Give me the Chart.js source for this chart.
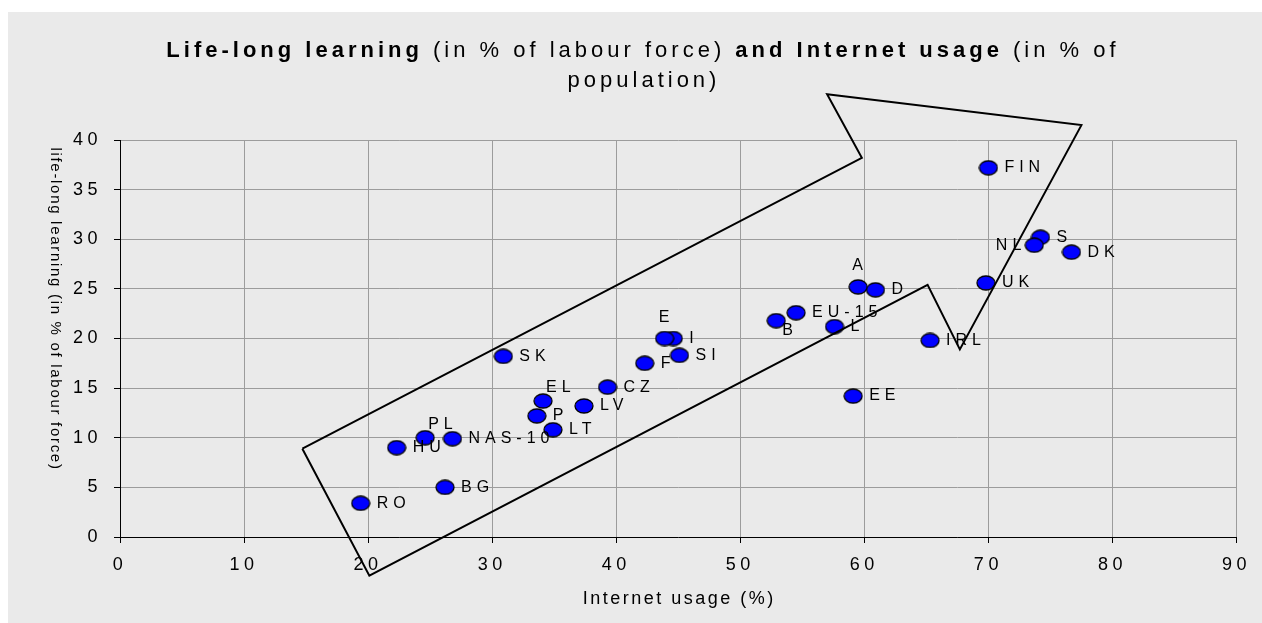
<!DOCTYPE html>
<html>
<head>
<meta charset="utf-8">
<title>Life-long learning and Internet usage</title>
<script src="https://cdn.jsdelivr.net/npm/chart.js@4.4.1/dist/chart.umd.min.js"></script>
<style>
  html, body { margin: 0; padding: 0; background: #fff; overflow: hidden; }
  canvas { display: block; }
</style>
</head>
<body>
<canvas id="chart" width="1262" height="623"></canvas>
<script>
"use strict";

// ---- data ----
// Internet usage (% of population) on x, life-long learning (% of labour force) on y.
// Order matters a little: later points are drawn on top of earlier ones.
const countries = ["RO", "BG", "HU", "PL", "NAS-10", "SK", "P", "EL", "LT", "LV", "CZ", "F", "I", "E", "SI",
  "EU-15", "B", "L", "D", "A", "EE", "IRL", "UK", "FIN", "S", "NL", "DK"];
const internetUsage = [19.4, 26.2, 22.3, 24.6, 26.8, 30.9, 33.6, 34.1, 34.9, 37.4, 39.3, 42.3, 44.6, 43.9, 45.1,
  54.5, 52.9, 57.6, 60.9, 59.5, 59.1, 65.3, 69.8, 70.0, 74.2, 73.7, 76.7];
const lifelongLearning = [3.4, 5.0, 9.0, 10.0, 9.9, 18.2, 12.2, 13.7, 10.8, 13.2, 15.1, 17.5, 20.0, 20.0, 18.3,
  22.6, 21.8, 21.2, 24.9, 25.2, 14.2, 19.8, 25.6, 37.2, 30.2, 29.4, 28.7];
// where each label sits next to its marker: r = right, l = left, a = above, ar = above right, br = below right
const labelSide = ["r", "r", "r", "ar", "r", "r", "r", "ar", "r", "r", "r", "r", "r", "a", "r",
  "r", "br", "r", "r", "a", "r", "r", "r", "r", "r", "l", "r"];

// the big hand-drawn arrow, as a closed outline in data units
const arrowX = [14.7, 59.8, 57.0, 77.5, 67.7, 65.1, 20.1, 14.7];
const arrowY = [8.9, 38.2, 44.6, 41.5, 18.9, 25.4, -3.9, 8.9];

const xMin = 0, xMax = 90, xStep = 10;
const yMin = 0, yMax = 40, yStep = 5;

// ---- look ----
const FONT = "'Liberation Sans', Arial, sans-serif";
const PANEL = "#eaeaea";
const GRID = "#9c9c9c";

// Excel draws its markers as squashed circles here, so build an ellipse image.
function ellipseMarker(w, h) {
  const c = document.createElement("canvas");
  c.width = w + 2;
  c.height = h + 2;
  const g = c.getContext("2d");
  g.beginPath();
  g.ellipse(c.width / 2, c.height / 2, w / 2, h / 2, 0, 0, Math.PI * 2);
  g.fillStyle = "#0000ff";
  g.fill();
  g.lineWidth = 1.3;
  g.strokeStyle = "#000";
  g.stroke();
  return c;
}

// draw text with mixed bold / normal runs centred on cx
function drawRuns(ctx, runs, cx, y, size) {
  let total = 0;
  const widths = runs.map(([text, bold]) => {
    ctx.font = (bold ? "bold " : "") + size + "px " + FONT;
    const w = ctx.measureText(text).width;
    total += w;
    return w;
  });
  let x = cx - total / 2;
  runs.forEach(([text, bold], i) => {
    ctx.font = (bold ? "bold " : "") + size + "px " + FONT;
    ctx.fillText(text, x, y);
    x += widths[i];
  });
}

// ---- plugins ----
const spacing = {
  id: "spacing",
  // tick labels are widely spaced in the original; Chart.js has no option for it
  beforeUpdate(chart) { chart.ctx.letterSpacing = "4.5px"; },
  beforeDraw(chart) { chart.ctx.letterSpacing = "4.5px"; },
};

const panel = {
  id: "panel",
  beforeDraw(chart) {
    const ctx = chart.ctx;
    ctx.save();
    ctx.fillStyle = "#fff";
    ctx.fillRect(0, 0, chart.width, chart.height);
    ctx.fillStyle = PANEL;
    ctx.fillRect(8, 12, chart.width - 8, chart.height - 12);
    ctx.restore();
  },
};

const countryLabels = {
  id: "countryLabels",
  afterDatasetDraw(chart, args) {
    if (args.index !== 1) return;
    const ctx = chart.ctx;
    ctx.save();
    ctx.font = "16px " + FONT;
    ctx.letterSpacing = "5px";
    ctx.fillStyle = "#000";
    ctx.textBaseline = "middle";
    args.meta.data.forEach((pt, i) => {
      let x = pt.x, y = pt.y;
      const side = labelSide[i];
      if (side === "l") {
        ctx.textAlign = "right";
        x -= 8;
      } else if (side === "a") {
        ctx.textAlign = "center";
        x += 2;
        y -= 21;
      } else if (side === "ar") {
        ctx.textAlign = "left";
        x += 3;
        y -= 13;
      } else if (side === "br") {
        ctx.textAlign = "left";
        x += 6;
        y += 10;
      } else {
        ctx.textAlign = "left";
        x += 16;
      }
      ctx.fillText(countries[i], x, y);
    });
    ctx.restore();
  },
};

const titles = {
  id: "titles",
  afterDraw(chart) {
    const ctx = chart.ctx;
    const area = chart.chartArea;
    ctx.save();
    ctx.fillStyle = "#000";
    ctx.textAlign = "left";
    ctx.textBaseline = "alphabetic";
    ctx.letterSpacing = "4px";
    drawRuns(ctx, [
      ["Life-long learning", true],
      [" (in % of labour force) ", false],
      ["and Internet usage", true],
      [" (in % of", false],
    ], 643, 57, 22);
    drawRuns(ctx, [["population)", false]], 644, 87, 22);

    // x axis title
    ctx.letterSpacing = "2.5px";
    ctx.font = "18px " + FONT;
    ctx.textAlign = "center";
    ctx.fillText("Internet usage (%)", (area.left + area.right) / 2 + 1, 604);

    // y axis title reads top to bottom
    ctx.letterSpacing = "1.7px";
    ctx.font = "15px " + FONT;
    ctx.translate(55, 309);
    ctx.rotate(Math.PI / 2);
    ctx.textBaseline = "middle";
    ctx.fillText("life-long learning (in % of labour force)", 0, 0);
    ctx.restore();
  },
};

// ---- chart ----
const marker = ellipseMarker(18, 14);

new Chart(document.getElementById("chart"), {
  type: "scatter",
  data: {
    datasets: [
      {
        label: "arrow",
        data: arrowX.map((x, i) => ({ x, y: arrowY[i] })),
        showLine: true,
        borderColor: "#000",
        borderWidth: 2,
        borderJoinStyle: "miter",
        pointRadius: 0,
        pointHoverRadius: 0,
        clip: false,
        order: 0,
      },
      {
        label: "countries",
        data: internetUsage.map((x, i) => ({ x, y: lifelongLearning[i] })),
        pointStyle: marker,
        pointRadius: 9,
        pointHoverRadius: 9,
        order: 1,
      },
    ],
  },
  options: {
    responsive: false,
    animation: false,
    devicePixelRatio: 1,
    events: [],
    layout: { padding: { left: 0, top: 140, right: 24, bottom: 0 } },
    plugins: { legend: { display: false }, tooltip: { enabled: false }, title: { display: false } },
    scales: {
      x: {
        type: "linear",
        min: xMin,
        max: xMax,
        afterFit: (s) => { s.height = 86; },
        ticks: { stepSize: xStep, color: "#000", padding: 11, font: { family: FONT, size: 18 } },
        grid: { color: GRID, lineWidth: 1, tickLength: 6, tickColor: "#000" },
        border: { color: "#000", width: 1 },
      },
      y: {
        type: "linear",
        min: yMin,
        max: yMax,
        afterFit: (s) => { s.width = 120; },
        ticks: { stepSize: yStep, color: "#000", padding: 12, font: { family: FONT, size: 18 } },
        grid: { color: GRID, lineWidth: 1, tickLength: 6, tickColor: "#000" },
        border: { color: "#000", width: 1 },
      },
    },
  },
  plugins: [spacing, panel, countryLabels, titles],
});
</script>
</body>
</html>
